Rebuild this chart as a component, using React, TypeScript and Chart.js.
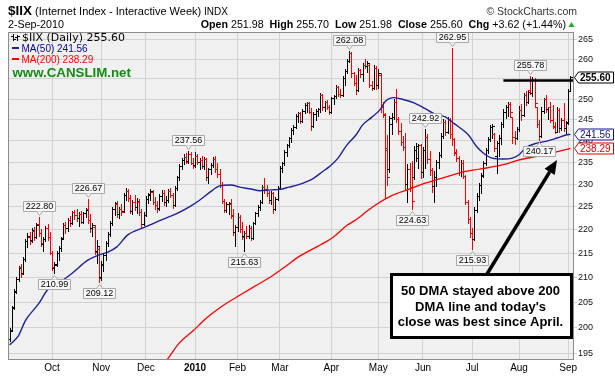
import React, { useEffect, useRef } from "react";
import { Chart, registerables } from "chart.js";
Chart.register(...registerables);

// ---- Daily OHLC for $IIX, 3-Sep-2009 .. 2-Sep-2010 (index = trading day) ----
const opens = [
  197.8, 199.6, 204.0, 207.0, 209.8, 212.2, 211.0, 213.8, 217.6, 218.6,
  217.8, 219.8, 218.6, 221.2, 219.4, 217.0, 218.0, 220.4, 218.4, 215.0,
  212.0, 212.8, 215.0, 216.2, 218.2, 221.0, 220.4, 222.2, 221.6, 223.8,
  223.2, 222.6, 223.4, 221.8, 223.6, 224.6, 222.2, 220.4, 220.6, 215.6,
  216.0, 210.2, 212.6, 214.6, 217.2, 219.2, 221.6, 224.6, 225.6, 223.4,
  224.6, 224.2, 227.6, 228.6, 227.0, 224.2, 226.0, 225.0, 226.2, 223.8,
  221.2, 223.2, 226.8, 227.8, 228.4, 226.2, 225.4, 224.8, 227.4, 228.2,
  226.0, 226.6, 228.6, 227.6, 225.4, 229.2, 231.6, 234.2, 235.6, 236.2,
  235.4, 237.0, 235.0, 234.4, 236.6, 235.2, 235.6, 234.2, 235.8, 231.8,
  233.4, 234.4, 235.8, 233.4, 232.4, 229.8, 226.4, 224.4, 225.6, 225.6,
  223.0, 219.6, 220.6, 222.8, 220.2, 218.8, 219.4, 218.8, 220.4, 218.2,
  221.4, 223.6, 225.0, 226.2, 229.4, 229.0, 228.0, 226.6, 228.2, 224.6,
  226.8, 229.2, 233.8, 234.8, 237.4, 239.0, 240.6, 242.6, 243.4, 246.0,
  246.6, 244.8, 247.2, 248.6, 249.0, 247.0, 243.6, 246.4, 247.2, 247.6,
  251.0, 248.0, 249.2, 248.0, 246.8, 250.2, 250.8, 253.0, 251.4, 251.0,
  255.2, 257.0, 259.6, 261.6, 256.4, 254.0, 252.2, 257.2, 256.2, 258.6,
  258.2, 258.4, 253.6, 252.8, 257.8, 253.4, 256.0, 248.0, 246.2, 238.0,
  233.4, 244.0, 245.8, 249.4, 245.2, 242.4, 239.8, 238.6, 230.2, 233.6,
  229.4, 231.8, 237.8, 236.0, 239.0, 232.8, 238.0, 241.0, 235.8, 233.2,
  229.6, 231.8, 235.2, 236.8, 241.2, 244.6, 242.0, 245.0, 241.6, 240.4,
  237.2, 236.0, 232.8, 235.0, 232.0, 226.2, 222.4, 219.4, 218.0, 224.4,
  227.4, 229.8, 232.2, 234.8, 237.8, 240.4, 243.2, 241.6, 236.6, 239.6,
  240.8, 244.0, 247.0, 248.2, 248.8, 245.6, 241.0, 240.6, 242.8, 247.4,
  246.2, 251.0, 249.4, 252.2, 251.6, 254.8, 248.0, 244.0, 241.2, 247.2,
  250.0, 247.6, 248.0, 245.0, 243.6, 242.2, 247.4, 243.0, 245.0, 243.0,
  244.4, 251.98,
];
const highs = [
  199.8, 204.2, 207.6, 210.2, 212.4, 212.8, 214.2, 218.0, 219.4, 219.6,
  220.4, 220.6, 221.4, 222.8, 220.2, 218.4, 220.8, 221.2, 219.6, 215.6,
  213.2, 215.6, 216.6, 218.4, 221.4, 221.8, 222.6, 223.0, 224.2, 224.4,
  224.6, 223.8, 224.2, 224.0, 224.8, 226.67, 223.4, 221.6, 221.0, 217.8,
  216.4, 213.4, 215.0, 217.6, 219.6, 222.0, 225.0, 226.2, 226.4, 225.0,
  225.6, 228.0, 229.2, 229.0, 227.6, 226.6, 227.6, 227.0, 226.8, 224.6,
  223.8, 227.4, 228.0, 229.0, 228.8, 227.2, 226.4, 227.8, 228.8, 228.8,
  227.4, 229.0, 229.2, 228.2, 229.6, 232.0, 234.6, 236.0, 237.0, 237.2,
  237.56, 237.4, 236.0, 237.4, 237.0, 236.0, 236.4, 236.2, 236.0, 233.8,
  234.8, 236.2, 236.4, 234.8, 233.6, 230.6, 226.8, 226.0, 226.2, 226.8,
  224.6, 221.0, 223.6, 223.2, 221.8, 219.8, 220.8, 221.0, 220.8, 221.8,
  224.0, 225.4, 226.6, 229.8, 231.4, 229.8, 228.6, 228.6, 228.4, 227.2,
  229.6, 234.2, 235.2, 237.8, 239.4, 241.0, 243.0, 243.8, 246.4, 247.0,
  246.8, 247.6, 249.0, 249.4, 249.4, 247.8, 246.8, 247.6, 247.8, 251.6,
  251.4, 249.6, 249.8, 248.6, 250.6, 251.0, 253.4, 253.2, 252.4, 255.8,
  257.4, 260.0, 262.08, 261.8, 256.8, 256.0, 257.8, 257.6, 259.0, 260.0,
  259.4, 258.8, 254.4, 258.6, 258.2, 257.6, 256.4, 249.4, 246.6, 241.4,
  246.0, 246.6, 250.0, 252.6, 245.6, 244.2, 241.2, 241.8, 234.6, 235.0,
  235.4, 238.8, 239.6, 239.4, 239.2, 238.6, 242.92, 241.6, 237.6, 233.8,
  233.0, 235.6, 237.4, 241.8, 245.2, 245.0, 245.6, 245.4, 262.95, 240.8,
  238.2, 236.4, 235.6, 235.6, 232.2, 226.6, 222.8, 220.4, 225.0, 228.0,
  230.4, 232.6, 235.4, 238.4, 241.0, 243.8, 244.0, 241.8, 240.0, 241.4,
  244.4, 247.6, 248.6, 249.2, 249.4, 245.8, 242.4, 243.4, 248.4, 248.8,
  251.6, 252.0, 252.2, 255.78, 255.4, 255.2, 248.2, 245.0, 248.0, 250.4,
  251.0, 248.2, 249.4, 248.6, 244.6, 248.2, 247.8, 245.4, 249.0, 244.8,
  252.4, 255.70,
];
const lows = [
  197.4, 199.4, 203.6, 206.8, 209.2, 210.2, 210.8, 213.4, 216.4, 217.0,
  217.4, 217.8, 218.2, 218.8, 216.6, 215.6, 217.6, 217.8, 214.8, 211.6,
  210.99, 212.4, 213.6, 215.6, 218.0, 219.4, 219.8, 220.8, 221.2, 222.4,
  222.0, 220.8, 221.4, 221.4, 222.8, 221.4, 219.6, 218.8, 214.8, 213.0,
  209.12, 209.6, 211.4, 213.6, 216.6, 218.8, 221.0, 223.2, 222.8, 222.6,
  223.2, 223.8, 226.6, 226.4, 223.6, 223.4, 224.4, 223.6, 223.2, 220.4,
  221.0, 223.0, 225.8, 226.6, 225.6, 224.6, 223.8, 224.4, 226.4, 225.4,
  225.2, 226.2, 227.2, 224.8, 225.2, 228.8, 231.0, 233.4, 234.6, 234.8,
  235.0, 234.6, 233.8, 234.0, 234.6, 233.4, 233.8, 233.6, 231.0, 230.4,
  232.4, 234.0, 232.8, 231.8, 229.4, 225.8, 224.0, 223.8, 223.4, 222.6,
  219.0, 216.6, 219.8, 219.6, 218.0, 215.63, 218.2, 218.2, 217.8, 218.0,
  221.2, 223.0, 224.4, 225.8, 228.2, 227.4, 225.8, 225.6, 223.6, 224.4,
  226.6, 229.0, 232.8, 234.4, 236.6, 238.6, 239.8, 241.6, 243.0, 244.6,
  244.2, 244.6, 246.6, 247.0, 246.6, 242.6, 243.2, 245.0, 246.0, 247.0,
  247.4, 247.2, 247.6, 246.4, 246.6, 248.8, 250.2, 250.8, 250.6, 250.8,
  253.6, 256.6, 259.2, 255.6, 253.4, 251.2, 252.0, 255.6, 254.6, 257.8,
  256.8, 253.0, 252.2, 252.6, 252.6, 252.8, 247.0, 245.6, 227.0, 229.9,
  232.8, 241.6, 245.2, 244.6, 241.6, 239.0, 238.0, 229.0, 226.0, 228.6,
  224.63, 231.2, 235.4, 233.8, 231.4, 231.6, 233.8, 235.0, 232.2, 228.4,
  226.2, 229.6, 233.8, 236.2, 240.8, 241.4, 241.8, 240.6, 239.0, 236.8,
  235.4, 232.2, 232.0, 231.4, 225.6, 221.6, 218.6, 215.93, 217.8, 223.8,
  226.6, 228.0, 231.6, 234.4, 237.2, 240.0, 240.6, 237.6, 232.6, 236.4,
  239.4, 243.2, 245.4, 246.0, 246.0, 239.6, 239.4, 240.4, 242.4, 245.0,
  246.0, 248.6, 249.0, 251.4, 250.8, 248.4, 243.4, 240.17, 241.0, 246.6,
  247.0, 245.2, 244.4, 243.0, 241.8, 242.0, 242.2, 242.6, 242.4, 241.8,
  244.0, 251.98,
];
const closes = [
  199.4, 203.8, 207.2, 209.8, 212.0, 210.8, 213.8, 217.6, 218.8, 217.6,
  220.0, 218.4, 221.0, 219.4, 217.2, 218.0, 220.4, 218.4, 215.2, 212.2,
  212.6, 215.2, 216.2, 218.0, 221.0, 220.4, 222.2, 221.4, 223.8, 223.2,
  222.6, 223.4, 221.8, 223.6, 224.4, 222.2, 220.4, 221.0, 215.4, 216.6,
  210.0, 212.8, 214.6, 217.2, 219.2, 221.6, 224.6, 225.8, 223.4, 224.6,
  224.0, 227.6, 228.6, 227.0, 224.2, 226.0, 225.0, 226.4, 223.8, 221.2,
  223.2, 226.8, 227.6, 228.6, 226.2, 225.4, 224.6, 227.4, 228.2, 226.0,
  226.6, 228.6, 227.6, 225.4, 229.2, 231.6, 234.2, 235.6, 236.2, 235.2,
  237.0, 235.0, 234.2, 236.6, 235.2, 235.6, 234.2, 235.8, 231.8, 233.4,
  234.4, 235.8, 233.4, 232.4, 230.0, 226.4, 224.4, 225.6, 225.8, 223.2,
  219.6, 220.6, 222.8, 220.2, 218.6, 219.4, 218.8, 220.4, 218.2, 221.4,
  223.6, 225.0, 226.2, 229.4, 229.0, 228.0, 226.6, 228.2, 224.6, 226.8,
  229.2, 233.8, 234.8, 237.4, 239.0, 240.6, 242.6, 243.4, 246.0, 246.6,
  244.8, 247.2, 248.6, 249.0, 247.0, 243.6, 246.4, 247.2, 247.6, 251.0,
  248.0, 249.2, 248.0, 246.8, 250.2, 250.8, 253.0, 251.4, 251.0, 255.2,
  257.0, 259.6, 261.6, 256.4, 254.0, 252.2, 257.2, 256.2, 258.6, 258.2,
  259.0, 253.6, 252.8, 257.8, 253.4, 256.6, 248.0, 246.4, 238.4, 231.6,
  245.4, 245.8, 249.4, 245.2, 242.4, 239.8, 238.6, 230.2, 233.6, 229.4,
  226.4, 237.8, 238.8, 239.0, 232.8, 238.0, 241.0, 235.8, 233.2, 229.6,
  231.8, 235.2, 236.8, 241.2, 244.6, 242.0, 245.0, 241.6, 240.4, 237.4,
  236.0, 232.8, 235.0, 232.0, 226.2, 222.4, 219.4, 218.0, 224.4, 227.4,
  229.8, 232.0, 234.8, 237.8, 240.4, 243.2, 243.6, 238.4, 239.6, 240.8,
  244.0, 247.0, 248.2, 248.8, 246.8, 241.0, 240.6, 242.8, 247.4, 246.2,
  251.0, 249.4, 251.8, 251.6, 254.8, 249.0, 244.0, 241.2, 247.2, 250.0,
  247.6, 248.0, 245.0, 243.4, 242.2, 247.4, 243.0, 245.0, 243.0, 244.2,
  251.98, 255.60,
];

// ---- Moving averages (bar index, value) ----
const ma50Idx = [0, 4, 7, 13, 17, 22, 28, 35, 40, 44, 48, 53, 60, 68, 75, 81, 85, 90, 94, 99, 103, 108, 112, 117, 121, 125, 129, 136, 140, 143, 147, 151, 155, 158, 162, 166, 168, 172, 177, 181, 186, 190, 195, 199, 204, 206, 209, 212, 216, 221, 225, 228, 231, 236, 240, 245, 249, 251];
const ma50Val = [196.6, 198.4, 201.3, 204.7, 207.5, 208.9, 210.9, 213.6, 214.7, 215.3, 216.4, 219.0, 220.5, 222.2, 223.6, 225.2, 226.5, 228.4, 229.7, 229.9, 229.4, 229.0, 228.6, 228.8, 228.9, 229.4, 229.9, 231.4, 232.9, 234.0, 236.0, 239.1, 241.4, 243.8, 245.6, 247.6, 249.4, 250.4, 249.8, 249.1, 247.7, 246.5, 245.7, 244.1, 242.1, 241.0, 238.7, 237.2, 236.0, 235.8, 236.0, 236.8, 238.4, 239.5, 239.9, 240.7, 241.4, 241.56];
const ma200Idx = [67, 71, 76, 82, 88, 95, 103, 110, 116, 122, 130, 139, 145, 151, 155, 160, 164, 171, 178, 186, 194, 201, 208, 214, 221, 228, 236, 243, 251];
const ma200Val = [191.9, 194.1, 197.0, 199.3, 201.8, 204.2, 206.4, 208.3, 209.9, 211.8, 214.5, 216.8, 218.5, 221.0, 222.2, 224.1, 225.5, 227.5, 228.8, 230.3, 231.5, 232.6, 233.3, 233.8, 234.5, 235.6, 236.4, 237.2, 238.29];

// ---- Axes ----
const monthTickIdx = [19, 41, 61, 83, 102, 121, 144, 165, 185, 207, 228, 250];
const monthTickLabels = ["Oct", "Nov", "Dec", "2010", "Feb", "Mar", "Apr", "May", "Jun", "Jul", "Aug", "Sep"];
const priceTicks = [195, 200, 205, 210, 215, 220, 225, 230, 235, 240, 245, 250, 255, 260, 265];

// ---- Swing labels ----
const swingIdx = [13, 20, 35, 40, 80, 105, 152, 180, 186, 198, 207, 233, 237];
const swingSide = ["high", "low", "high", "low", "high", "low", "high", "low", "high", "high", "low", "high", "low"];

const resistanceLevel = 254.6;
const resistanceFromIdx = 221;
const lastClose = 255.6;
const ma50Last = 241.56;
const ma200Last = 238.29;

const SANS = '"Liberation Sans", Arial, Helvetica, sans-serif';
const VERD = '"DejaVu Sans", Verdana, sans-serif';
const BLUE = "#1f1f99";
const RED = "#ff0000";
const PLOT_BG = "#f0f0f0";
const GRID = "#d2d2d2";

function drawRuns(ctx: CanvasRenderingContext2D, runs: { t: string; f: string; c: string }[], x: number, y: number) {
  for (const r of runs) {
    ctx.font = r.f;
    ctx.fillStyle = r.c;
    ctx.fillText(r.t, x, y);
    x += ctx.measureText(r.t).width;
  }
  return x;
}
function runsWidth(ctx: CanvasRenderingContext2D, runs: { t: string; f: string; c: string }[]) {
  let w = 0;
  for (const r of runs) {
    ctx.font = r.f;
    w += ctx.measureText(r.t).width;
  }
  return w;
}

function drawSwingLabel(ctx: CanvasRenderingContext2D, text: string, cx: number, yPt: number, above: boolean) {
  ctx.font = `9px ${SANS}`;
  const w = Math.round(ctx.measureText(text).width) + 4;
  const h = 10;
  const c = Math.round(cx) + 0.5;
  const left = Math.round(cx - w / 2) + 0.5;
  const top = above ? Math.round(yPt - 6 - h) + 0.5 : Math.round(yPt + 6) + 0.5;
  ctx.fillStyle = "#f8f8f8";
  ctx.strokeStyle = "#a8a8a8";
  ctx.lineWidth = 1;
  ctx.beginPath();
  ctx.rect(left, top, w, h);
  ctx.fill();
  ctx.stroke();
  ctx.beginPath();
  if (above) {
    const b = top + h;
    ctx.moveTo(c - 3, b);
    ctx.lineTo(c, b + 4);
    ctx.lineTo(c + 3, b);
  } else {
    ctx.moveTo(c - 3, top);
    ctx.lineTo(c, top - 4);
    ctx.lineTo(c + 3, top);
  }
  ctx.fill();
  ctx.stroke();
  ctx.fillStyle = "#000";
  ctx.textAlign = "center";
  ctx.textBaseline = "middle";
  ctx.fillText(text, c, top + h / 2 + 0.5);
}

function drawTag(ctx: CanvasRenderingContext2D, text: string, xTip: number, yc: number, color: string, bold: boolean) {
  const h = 11;
  const x0 = xTip + 4;
  const x1 = 613;
  const y = Math.round(yc) + 0.5;
  ctx.beginPath();
  ctx.moveTo(xTip + 0.5, y);
  ctx.lineTo(x0 + 0.5, y - h / 2);
  ctx.lineTo(x1 + 0.5, y - h / 2);
  ctx.lineTo(x1 + 0.5, y + h / 2);
  ctx.lineTo(x0 + 0.5, y + h / 2);
  ctx.closePath();
  ctx.fillStyle = "#fff";
  ctx.fill();
  ctx.strokeStyle = color;
  ctx.lineWidth = 1;
  ctx.stroke();
  ctx.font = `${bold ? "bold " : ""}10px ${SANS}`;
  ctx.fillStyle = color;
  ctx.textAlign = "left";
  ctx.textBaseline = "middle";
  ctx.fillText(text, x0 + 2, y + 0.5);
}

const stockPlugin = {
  id: "stockPlugin",
  beforeDraw(chart: any) {
    const { ctx, chartArea: a } = chart;
    ctx.save();
    ctx.fillStyle = "#fff";
    ctx.fillRect(0, 0, chart.width, chart.height);
    ctx.fillStyle = PLOT_BG;
    ctx.fillRect(a.left, a.top, a.right - a.left, a.bottom - a.top);
    ctx.restore();
  },
  beforeDatasetsDraw(chart: any) {
    const { ctx, chartArea: a } = chart;
    const xs = chart.scales.x;
    const ys = chart.scales.y;
    ctx.save();
    ctx.beginPath();
    ctx.rect(a.left, a.top, a.right - a.left, a.bottom - a.top);
    ctx.clip();
    for (let i = 0; i < closes.length; i++) {
      const up = i === 0 || closes[i] >= closes[i - 1];
      ctx.fillStyle = up ? "#000" : RED;
      const px = Math.round(xs.getPixelForValue(i));
      const yh = Math.round(ys.getPixelForValue(highs[i]));
      const yl = Math.round(ys.getPixelForValue(lows[i]));
      const yo = Math.round(ys.getPixelForValue(opens[i]));
      const yc = Math.round(ys.getPixelForValue(closes[i]));
      ctx.fillRect(px, yh, 1, Math.max(1, yl - yh + 1));
      ctx.fillRect(px - 2, yo, 2, 1);
      ctx.fillRect(px + 1, yc, 2, 1);
    }
    ctx.restore();
  },
  afterDatasetsDraw(chart: any) {
    const { ctx, chartArea: a } = chart;
    const xs = chart.scales.x;
    const ys = chart.scales.y;
    ctx.save();
    // resistance line
    const ry = ys.getPixelForValue(resistanceLevel);
    ctx.strokeStyle = "#000";
    ctx.lineWidth = 2.5;
    ctx.beginPath();
    ctx.moveTo(xs.getPixelForValue(resistanceFromIdx), ry);
    ctx.lineTo(a.right, ry);
    ctx.stroke();

    // swing labels
    for (let k = 0; k < swingIdx.length; k++) {
      const i = swingIdx[k];
      const above = swingSide[k] === "high";
      const v = above ? highs[i] : lows[i];
      drawSwingLabel(ctx, v.toFixed(2), xs.getPixelForValue(i), ys.getPixelForValue(v), above);
    }

    // arrow
    const sx = 487, sy = 274, tx = 557, ty = 160;
    const ang = Math.atan2(ty - sy, tx - sx);
    const hl = 14, hw = 6;
    const bx = tx - hl * Math.cos(ang), by = ty - hl * Math.sin(ang);
    ctx.strokeStyle = "#000";
    ctx.fillStyle = "#000";
    ctx.lineWidth = 3.5;
    ctx.beginPath();
    ctx.moveTo(sx, sy);
    ctx.lineTo(bx, by);
    ctx.stroke();
    ctx.beginPath();
    ctx.moveTo(tx, ty);
    ctx.lineTo(bx + hw * Math.sin(ang), by - hw * Math.cos(ang));
    ctx.lineTo(bx - hw * Math.sin(ang), by + hw * Math.cos(ang));
    ctx.closePath();
    ctx.fill();

    // callout box
    ctx.fillStyle = "#fff";
    ctx.fillRect(391.5, 274.5, 180, 63);
    ctx.lineWidth = 3;
    ctx.strokeRect(391.5, 274.5, 180, 63);
    ctx.fillStyle = "#000";
    ctx.font = `bold 13px ${SANS}`;
    ctx.textAlign = "center";
    ctx.textBaseline = "alphabetic";
    ctx.fillText("50 DMA stayed above 200", 480.5, 295);
    ctx.fillText("DMA line and today's", 480.5, 310.5);
    ctx.fillText("close was best since April.", 480.5, 325.5);
    ctx.restore();
  },
  afterDraw(chart: any) {
    const { ctx, chartArea: a } = chart;
    const ys = chart.scales.y;
    ctx.save();
    // plot border
    ctx.strokeStyle = "#8c8c8c";
    ctx.lineWidth = 1;
    ctx.strokeRect(a.left + 0.5, a.top + 0.5, a.right - a.left - 1, a.bottom - a.top);

    // header row 1
    ctx.textAlign = "left";
    ctx.textBaseline = "alphabetic";
    drawRuns(ctx, [
      { t: "$IIX", f: `bold 13.5px ${SANS}`, c: "#000" },
      { t: " (Internet Index - Interactive Week)", f: `11px ${SANS}`, c: "#000" },
      { t: " INDX", f: `10px ${SANS}`, c: "#000" },
    ], 8, 15);
    ctx.font = `10.5px ${SANS}`;
    ctx.fillStyle = "#333";
    ctx.textAlign = "right";
    ctx.fillText("\u00A9 StockCharts.com", 577, 15);

    // header row 2
    ctx.textAlign = "left";
    ctx.font = `10.7px ${SANS}`;
    ctx.fillStyle = "#000";
    ctx.fillText("2-Sep-2010", 8, 27.5);
    const B = `bold 10.7px ${SANS}`, N = `10.7px ${SANS}`;
    const runs = [
      { t: "Open ", f: B, c: "#000" }, { t: "251.98  ", f: N, c: "#000" },
      { t: "High ", f: B, c: "#000" }, { t: "255.70  ", f: N, c: "#000" },
      { t: "Low ", f: B, c: "#000" }, { t: "251.98  ", f: N, c: "#000" },
      { t: "Close ", f: B, c: "#000" }, { t: "255.60  ", f: N, c: "#000" },
      { t: "Chg ", f: B, c: "#000" }, { t: "+3.62 (+1.44%)", f: N, c: "#000" },
    ];
    const w = runsWidth(ctx, runs);
    drawRuns(ctx, runs, 566 - w, 27.5);
    ctx.fillStyle = "#22aa22";
    ctx.beginPath();
    ctx.moveTo(568.5, 27);
    ctx.lineTo(574.5, 27);
    ctx.lineTo(571.5, 22);
    ctx.closePath();
    ctx.fill();

    // legend in plot
    ctx.fillStyle = "#000";
    ctx.fillRect(13, 34, 1, 7);
    ctx.fillRect(11, 36, 2, 1);
    ctx.fillRect(14, 39, 2, 1);
    ctx.fillRect(17, 35, 1, 6);
    ctx.fillRect(15, 37, 2, 1);
    ctx.fillRect(18, 36, 2, 1);
    ctx.font = `11px ${VERD}`;
    ctx.textAlign = "left";
    ctx.fillText("$IIX (Daily) 255.60", 22, 40.5);
    ctx.fillStyle = BLUE;
    ctx.fillRect(12, 47, 7, 2);
    ctx.font = `10px ${SANS}`;
    ctx.fillStyle = "#0000a0";
    ctx.fillText("MA(50) 241.56", 21.5, 51.5);
    ctx.fillStyle = RED;
    ctx.fillRect(12, 58, 7, 2);
    ctx.fillText("MA(200) 238.29", 21.5, 62.5);
    ctx.font = `bold 13.3px ${SANS}`;
    ctx.fillStyle = "#138a13";
    ctx.fillText("www.CANSLIM.net", 12.5, 76.5);

    // right value tags
    drawTag(ctx, ma200Last.toFixed(2), a.right, ys.getPixelForValue(ma200Last), "#e00000", false);
    drawTag(ctx, ma50Last.toFixed(2), a.right, ys.getPixelForValue(ma50Last), "#10108c", false);
    drawTag(ctx, lastClose.toFixed(2), a.right, ys.getPixelForValue(lastClose), "#000", true);
    ctx.restore();
  },
};

export default function App() {
  const ref = useRef<HTMLCanvasElement>(null);
  useEffect(() => {
    document.body.style.margin = "0";
    const canvas = ref.current!;
    const chart = new Chart(canvas, {
      type: "line",
      data: {
        datasets: [
          {
            label: "MA(50)",
            data: ma50Idx.map((x, k) => ({ x, y: ma50Val[k] })),
            borderColor: BLUE,
            borderWidth: 1.4,
            pointRadius: 0,
            cubicInterpolationMode: "monotone",
            fill: false,
          },
          {
            label: "MA(200)",
            data: ma200Idx.map((x, k) => ({ x, y: ma200Val[k] })),
            borderColor: RED,
            borderWidth: 1.3,
            pointRadius: 0,
            cubicInterpolationMode: "monotone",
            fill: false,
          },
        ],
      },
      options: {
        responsive: false,
        animation: false,
        devicePixelRatio: 1,
        events: [],
        layout: { padding: { left: 8, top: 32, right: 0, bottom: 0 } },
        plugins: { legend: { display: false }, tooltip: { enabled: false } },
        scales: {
          x: {
            type: "linear",
            min: -0.72,
            max: 252.6,
            afterBuildTicks: (s: any) => {
              s.ticks = monthTickIdx.map((v) => ({ value: v }));
            },
            afterFit: (s: any) => {
              s.height = 20;
            },
            ticks: {
              autoSkip: false,
              maxRotation: 0,
              padding: 3,
              color: "#000",
              callback: (_v: any, i: number) => monthTickLabels[i] ?? "",
              font: (c: any) => ({ family: SANS, size: 10, weight: c.index === 3 ? "bold" : "normal" }),
            },
            grid: { color: GRID, drawTicks: false },
            border: { display: false },
          },
          y: {
            type: "logarithmic",
            position: "right",
            min: 193.93,
            max: 266.98,
            afterBuildTicks: (s: any) => {
              s.ticks = priceTicks.map((v) => ({ value: v }));
            },
            afterFit: (s: any) => {
              s.width = 41;
            },
            ticks: {
              padding: 1,
              color: "#111",
              font: { family: SANS, size: 9 },
              callback: (v: any) => String(v),
            },
            grid: { color: GRID, tickLength: 3 },
            border: { display: false },
          },
        },
      },
      plugins: [stockPlugin],
    } as any);
    return () => chart.destroy();
  }, []);
  return <canvas ref={ref} width={615} height={379} style={{ display: "block", width: 615, height: 379 }} />;
}
